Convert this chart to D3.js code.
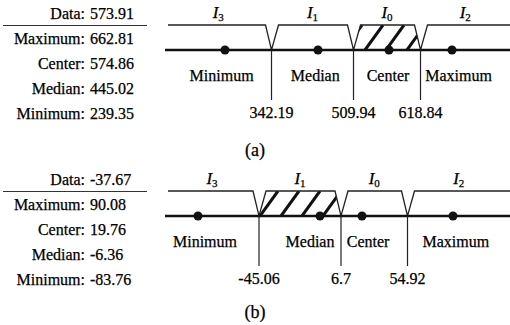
<!DOCTYPE html>
<html>
<head>
<meta charset="utf-8">
<script src="https://cdn.jsdelivr.net/npm/d3@7"></script>
<style>
body { margin: 0; background: #fff; }
svg { display: block; font-family: "Liberation Serif", "Times New Roman", serif; }
svg text { fill: #000; stroke: #000; stroke-width: 0.25; }
</style>
</head>
<body>
<svg width="510" height="325"></svg>
<script>
// values
var tableNames = ["Maximum", "Center", "Median", "Minimum"];
var axisNames = ["Minimum", "Median", "Center", "Maximum"];
var intervalSubs = ["3", "1", "0", "2"];
var captions = ["(a)", "(b)"];

var dataA = 573.91;
var statsA = [662.81, 574.86, 445.02, 239.35];
var boundsA = [342.19, 509.94, 618.84];

var dataB = -37.67;
var statsB = [90.08, 19.76, -6.36, -83.76];
var boundsB = [-45.06, 6.7, 54.92];

var svg = d3.select('svg');
var W = 510,
  axisLeft = 165,
  topLeft = 168;

var panels = [
  { data: dataA, stats: statsA, bounds: boundsA, y0: 0, capY: 156, range: [225, 318, 389, 452] },
  { data: dataB, stats: statsB, bounds: boundsB, y0: 166, capY: 152, range: [198, 320, 362, 453] }
];

panels.forEach(function (p, pi) {
  var g = svg.append('g').attr('transform', 'translate(0,' + p.y0 + ')');
  var topY = 25, axisY = 50;

  // schematic (piecewise) scale: min, median, center, max
  var asc = p.stats.slice().reverse();
  var x = d3.scaleLinear().domain(asc).range(p.range);

  // table on the left
  var rows = [["Data", p.data]].concat(tableNames.map(function (n, i) { return [n, p.stats[i]]; }));
  var rowY = function (i) { return 19 + i * 25; };

  g.selectAll('.tl').data(rows).enter().append('text')
    .attr('x', 85).attr('y', function (d, i) { return rowY(i); })
    .attr('text-anchor', 'end').attr('font-size', 16)
    .text(function (d) { return d[0] + ':'; });
  g.selectAll('.tv').data(rows).enter().append('text')
    .attr('x', 90).attr('y', function (d, i) { return rowY(i); })
    .attr('font-size', 16)
    .text(function (d) { return d[1]; });
  g.append('line')
    .attr('x1', 3).attr('x2', 147).attr('y1', topY + 0.5).attr('y2', topY + 0.5)
    .attr('stroke', '#333').attr('stroke-width', 1);

  var edges = [axisLeft].concat(p.bounds.map(x), [W]);
  var k = d3.bisect(p.bounds, p.data);
  var left = edges[k], right = edges[k + 1];

  // hatched interval holding the data value
  var poly = [[left, axisY], [left + 7, topY], [right - 6, topY], [right, axisY]];
  g.append('clipPath').attr('id', 'hclip' + pi)
    .append('path').attr('d', d3.line()(poly) + 'Z');
  var step = 21;
  var start = (Math.floor(left / step) - 1) * step + 8;
  g.append('g').attr('clip-path', 'url(#hclip' + pi + ')')
    .selectAll('line').data(d3.range(start, right + step, step)).enter().append('line')
    .attr('x1', function (d) { return d; }).attr('y1', axisY)
    .attr('x2', function (d) { return d + 18; }).attr('y2', topY)
    .attr('stroke', '#111').attr('stroke-width', 3);

  // top membership outline
  var pts = [[topLeft, topY]];
  p.bounds.forEach(function (b) {
    var xb = x(b);
    pts.push([xb - 6, topY], [xb, axisY], [xb + 7, topY]);
  });
  pts.push([W, topY]);
  g.append('path').attr('d', d3.line()(pts))
    .attr('fill', 'none').attr('stroke', '#222').attr('stroke-width', 1.3);

  // axis
  g.append('line')
    .attr('x1', axisLeft).attr('x2', W).attr('y1', axisY).attr('y2', axisY)
    .attr('stroke', '#111').attr('stroke-width', 2.5);

  // boundaries
  g.selectAll('.bl').data(p.bounds).enter().append('line')
    .attr('x1', x).attr('x2', x).attr('y1', axisY).attr('y2', 100)
    .attr('stroke', '#222').attr('stroke-width', 1.2);
  g.selectAll('.bt').data(p.bounds).enter().append('text')
    .attr('x', x).attr('y', 118).attr('text-anchor', 'middle')
    .attr('font-size', 16)
    .text(function (d) { return d; });

  // stat points
  g.selectAll('circle').data(asc).enter().append('circle')
    .attr('cx', x).attr('cy', axisY).attr('r', 4.5).attr('fill', '#111');

  var mid = function (j) { return (edges[j] + edges[j + 1]) / 2; };
  g.selectAll('.sl').data(axisNames).enter().append('text')
    .attr('x', function (d, j) { return (x(asc[j]) + mid(j)) / 2; })
    .attr('y', 81).attr('text-anchor', 'middle')
    .attr('font-size', 16)
    .text(function (d) { return d; });

  // interval names
  var il = g.selectAll('.il').data(intervalSubs).enter().append('text')
    .attr('x', function (d, j) { return mid(j); })
    .attr('y', 18).attr('text-anchor', 'middle');
  il.append('tspan').attr('font-size', 17).attr('font-style', 'italic').text('I');
  il.append('tspan').attr('font-size', 11).attr('dy', 3).text(function (d) { return d; });

  svg.append('text')
    .attr('x', W / 2).attr('y', p.y0 + p.capY).attr('text-anchor', 'middle')
    .attr('font-size', 18)
    .text(captions[pi]);
});
</script>
</body>
</html>
